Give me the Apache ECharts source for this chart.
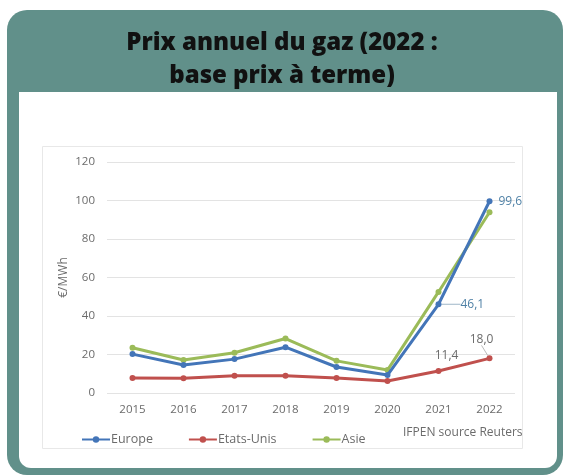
<!DOCTYPE html>
<html><head><meta charset="utf-8">
<script src="https://cdn.jsdelivr.net/npm/echarts@6/dist/echarts.min.js"></script>
<style>html,body{margin:0;padding:0;background:#fff}#c{width:564px;height:475px}</style>
</head><body><div id="c"></div>
<script>
const years = ['2015','2016','2017','2018','2019','2020','2021','2022'];
const europe = [20.2, 14.5, 17.6, 23.8, 13.5, 9.3, 46.1, 99.6];
const etatsUnis = [7.8, 7.7, 9.0, 9.0, 7.8, 6.2, 11.4, 18.0];
const asie = [23.5, 17.1, 20.9, 28.3, 16.7, 11.9, 52.5, 93.9];
const yTicks = [0, 20, 40, 60, 80, 100, 120];

const FONT = '"Open Sans", "Liberation Sans", sans-serif';
const fmt = v => v.toFixed(1).replace('.', ',');

function withLabels(arr, labels) {
  return arr.map((v, i) => labels[i] ? { value: v, label: Object.assign({ show: true, formatter: fmt(v), fontFamily: FONT, fontSize: 12 }, labels[i].label), labelLine: labels[i].line } : v);
}

const europeData = withLabels(europe, {
  6: { label: { position: 'right', distance: 6, color: '#4f81a6' }, line: { show: true, lineStyle: { color: '#9fb7c8', width: 1 } } },
  7: { label: { position: 'right', distance: 6, color: '#4f81a6' } }
});
const usData = withLabels(etatsUnis, {
  6: { label: { position: 'top', distance: 6, color: '#6b6b6b' } },
  7: { label: { position: 'top', distance: 4, color: '#6b6b6b' }, line: { show: true, lineStyle: { color: '#bbbbbb', width: 1 } } }
});

const europeShift = { 6: { dx: 13 } };
const usShift = { 6: { dx: 8, dy: 0 }, 7: { dx: -8, dy: -6 } };

const chart = echarts.init(document.getElementById('c'), null, { renderer: 'canvas' });
chart.setOption({
  animation: false,
  backgroundColor: '#ffffff',
  graphic: [
    { type: 'rect', z: -10, shape: { x: 7, y: 10, width: 556, height: 465, r: 20 }, style: { fill: '#61908a' } },
    { type: 'rect', z: -9, shape: { x: 19, y: 92, width: 538, height: 376, r: [0, 0, 12, 12] }, style: { fill: '#ffffff' } },
    { type: 'rect', z: -8, shape: { x: 42.5, y: 146.5, width: 480, height: 302 }, style: { fill: '#ffffff', stroke: '#e8e8e8', lineWidth: 1 } },
    { type: 'text', z: 10, left: 403, top: 427, style: { text: 'IFPEN source Reuters', fill: '#6b6b6b', font: '12px ' + FONT } }
  ],
  title: {
    text: 'Prix annuel du gaz (2022 :\nbase prix à terme)',
    left: 'center', top: 22,
    textStyle: { fontFamily: FONT, fontWeight: 800, fontSize: 24, lineHeight: 33, color: '#111111' }
  },
  legend: {
    left: 76, top: 428,
    itemWidth: 28, itemHeight: 8, itemGap: 35,
    textStyle: { fontFamily: FONT, fontSize: 12.5, color: '#6b6b6b', padding: [0, 0, 0, -4] },
    data: ['Europe', 'Etats-Unis', 'Asie']
  },
  grid: { left: 107, right: 49, top: 162, bottom: 82 },
  xAxis: {
    type: 'category', data: years, boundaryGap: true,
    axisLine: { show: false }, axisTick: { show: false },
    axisLabel: { fontFamily: FONT, fontSize: 11.5, color: '#6b6b6b', margin: 11 }
  },
  yAxis: {
    type: 'value', min: yTicks[0], max: yTicks[yTicks.length - 1], interval: 20,
    name: '€/MWh', nameLocation: 'middle', nameGap: 37, nameRotate: 90, nameMoveOverlap: false,
    nameTextStyle: { fontFamily: FONT, fontSize: 12, color: '#6b6b6b' },
    axisLine: { show: false }, axisTick: { show: false },
    axisLabel: { fontFamily: FONT, fontSize: 11.5, color: '#6b6b6b', margin: 12 },
    splitLine: { lineStyle: { color: '#e3e3e3', width: 1 } }
  },
  series: [
    { name: 'Europe', type: 'line', data: europeData, symbol: 'circle', symbolSize: 6, z: 3,
      lineStyle: { color: '#4375b8', width: 3 }, itemStyle: { color: '#4375b8' },
      labelLayout: p => europeShift[p.dataIndex] || {} },
    { name: 'Etats-Unis', type: 'line', data: usData, symbol: 'circle', symbolSize: 6, z: 2,
      lineStyle: { color: '#c0504d', width: 3 }, itemStyle: { color: '#c0504d' },
      labelLayout: p => usShift[p.dataIndex] || {} },
    { name: 'Asie', type: 'line', data: asie, symbol: 'circle', symbolSize: 6, z: 2,
      lineStyle: { color: '#9bbb59', width: 3 }, itemStyle: { color: '#9bbb59' } }
  ]
});
</script></body></html>
